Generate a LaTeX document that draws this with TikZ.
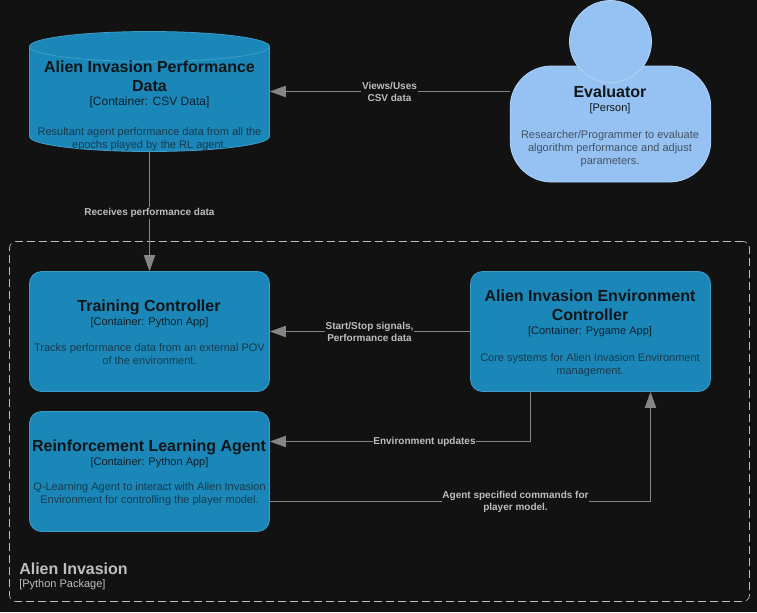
\documentclass[tikz,border=0pt]{standalone}
\usepackage{fontspec}
\setmainfont{Liberation Sans}
\usetikzlibrary{arrows.meta}
\definecolor{bgc}{HTML}{121212}
\definecolor{boxfill}{HTML}{1A87B8}
\definecolor{boxline}{HTML}{3E9CC6}
\definecolor{personfill}{HTML}{95C2F2}
\definecolor{personline}{HTML}{B0D3F6}
\definecolor{titlec}{HTML}{111518}
\definecolor{tagc}{HTML}{0F2029}
\definecolor{descc}{HTML}{183A4D}
\definecolor{pdesc}{HTML}{445260}
\definecolor{wire}{HTML}{858585}
\definecolor{labelc}{HTML}{BDBDBD}
\definecolor{groupc}{HTML}{BEBEBE}
\tikzset{
  boxnode/.style={draw=boxline,fill=boxfill,line width=0.6pt,rounded corners=9pt,minimum width=180pt,minimum height=90pt,inner sep=0pt},
  titletext/.style={inner sep=0pt,align=center,text=titlec,font=\fontsize{12}{14.25}\selectfont\bfseries},
  tagtext/.style={inner sep=0pt,align=center,text=tagc,font=\fontsize{8.25}{9.75}\selectfont},
  desctext/.style={inner sep=0pt,align=center,text=descc,font=\fontsize{8.25}{9.75}\selectfont},
  pdesctext/.style={desctext,text=pdesc},
  wirelabel/.style={fill=bgc,inner xsep=0.6pt,inner ysep=1pt,align=center,text=labelc,font=\fontsize{7.5}{9}\selectfont\bfseries},
  wirearrow/.style={draw=wire,line width=0.6pt,-{Triangle[length=12pt,width=8.5pt,fill=wire]}},
}
\begin{document}
\begin{tikzpicture}[x=0.75pt,y=-0.75pt]
\useasboundingbox[fill=bgc] (0,0) rectangle (757,612);

% group
\node[draw=groupc,line width=0.5pt,dash pattern=on 6pt off 3pt,rounded corners=5pt,minimum width=555pt,minimum height=270pt,inner sep=0pt] (grp) at (379.5,421.5) {};
\node[anchor=west,inner sep=0pt,text=groupc,font=\fontsize{12}{14}\selectfont\bfseries] (grptitle) at (19,568.5) {Alien Invasion};
\node[anchor=west,inner sep=0pt,text=groupc,font=\fontsize{8.25}{9.75}\selectfont] (grptag) at (19,585) {[Python Package]};

% cylinder
\node[minimum width=180pt,minimum height=90pt,inner sep=0pt] (csv) at (149.5,91.5) {};
\draw[draw=boxline,fill=boxfill,line width=0.6pt] (29.5,46.5) arc[start angle=180,end angle=0,x radius=90pt,y radius=11.25pt]
  -- (269.5,136.5) arc[start angle=360,end angle=180,x radius=90pt,y radius=11.25pt] -- cycle;
\draw[draw=boxline,line width=0.6pt] (29.5,46.5) arc[start angle=180,end angle=360,x radius=90pt,y radius=11.25pt];
\node[titletext] (csvtitle) at (149.5,76.7) {Alien Invasion Performance\\Data};
\node[tagtext,font=\fontsize{9}{10}\selectfont] (csvtag) at (149.5,102.5) {[Container: CSV Data]};
\node[desctext] (csvdesc) at (149.5,139.3) {Resultant agent performance data from all the\\epochs played by the RL agent.};

% person
\node[draw=personline,fill=personfill,line width=0.6pt,rounded corners=31pt,minimum width=150.5pt,minimum height=87pt,inner sep=0pt] (evalbody) at (610.5,124) {};
\node[circle,draw=personline,fill=personfill,line width=0.6pt,minimum size=61.5pt,inner sep=0pt] (evalhead) at (610.5,41.5) {};
\node[titletext] (evaltitle) at (610,91.7) {Evaluator};
\node[tagtext,text=titlec] (evaltag) at (610,108.2) {[Person]};
\node[pdesctext] (evaldesc) at (610,148.2) {Researcher/Programmer to evaluate\\algorithm performance and adjust\\parameters.};

% containers
\node[boxnode] (train) at (149.5,331.5) {};
\node[titletext] (traintitle) at (149,307) {Training Controller};
\node[tagtext] (traintag) at (149.5,322.2) {[Container: Python App]};
\node[desctext] (traindesc) at (149.5,354) {Tracks performance data from an external POV\\of the environment.};

\node[boxnode] (env) at (590.5,331.5) {};
\node[titletext] (envtitle) at (590,305.2) {Alien Invasion Environment\\Controller};
\node[tagtext] (envtag) at (590,331.2) {[Container: Pygame App]};
\node[desctext] (envdesc) at (590,364.8) {Core systems for Alien Invasion Environment\\management.};

\node[boxnode] (rl) at (149.5,471.5) {};
\node[titletext] (rltitle) at (149,447) {Reinforcement Learning Agent};
\node[tagtext] (rltag) at (149.5,462.2) {[Container: Python App]};
\node[desctext] (rldesc) at (149.5,494.4) {Q-Learning Agent to interact with Alien Invasion\\Environment for controlling the player model.};

% connectors: the whole line first, its label over it
\draw[wirearrow] (evalbody.west |- csv.east) -- (csv.east);
\node[wirelabel] (lviews) at (389.5,91.5) {Views/Uses\\CSV data};

\draw[wirearrow] (csv.south) -- (train.north);
\node[wirelabel] (lrecv) at (149.5,212.6) {Receives performance data};

\draw[wirearrow] (env.west) -- (train.east);
\node[wirelabel] (lstart) at (369.5,331.5) {Start/Stop signals,\\Performance data};

\draw[wirearrow] ([xshift=-45pt]env.south) |- ([yshift=22.5pt]rl.east);
\node[wirelabel] (lenv) at (424.5,442.2) {Environment updates};

\draw[wirearrow] ([yshift=-22.5pt]rl.east) -| ([xshift=45pt]env.south);
\node[wirelabel] (lagent) at (515.5,502.2) {Agent specified commands for\\player model.};
\end{tikzpicture}
\end{document}
